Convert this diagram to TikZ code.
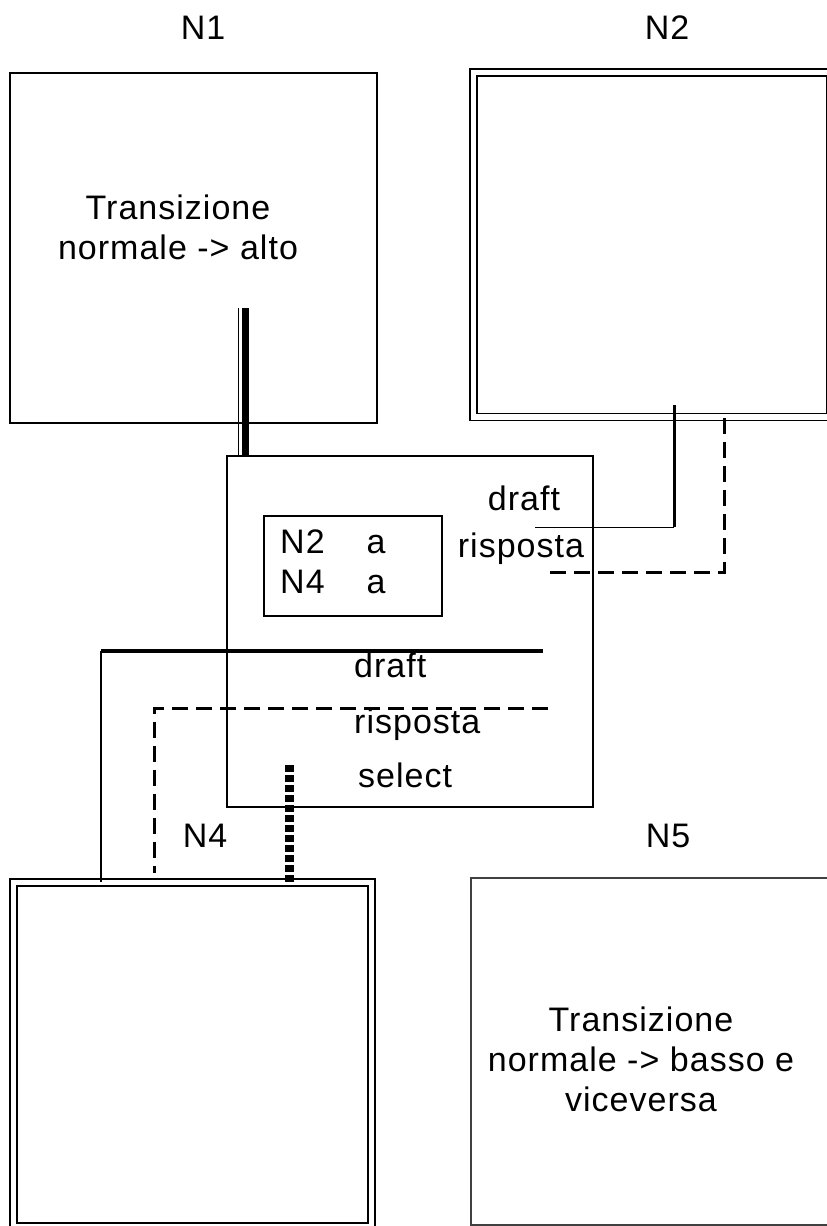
\documentclass[tikz,border=0pt]{standalone}
\usepackage{fontspec}
\setmainfont{Liberation Sans}[LetterSpace=3]
\begin{document}
\begin{tikzpicture}[x=1pt, y=-1pt,
    every node/.style={font=\fontsize{34}{40}\selectfont, inner sep=0pt},
    nodo/.style={draw, line width=2pt, rectangle},
    nododoppio/.style={draw, line width=1.5pt, double, double distance=5.5pt, rectangle},
    pieno/.style={line width=3pt},
    tratto/.style={line width=3pt, dash pattern=on 16pt off 8pt},
    punti/.style={line width=9pt, dash pattern=on 7pt off 3pt}]
    \clip (0,0) rectangle (827,1226);
    % nodes
    \node[nodo, minimum width=367pt, minimum height=350pt] (n1) at (193.5,248) {};
    \node[nododoppio, minimum width=357pt, minimum height=344.5pt] (n2) at (652,244.75) {};
    \node[nododoppio, minimum width=358pt, minimum height=344pt] (n4) at (192.5,1054.5) {};
    \node[draw=black!75, line width=1.2pt, minimum width=364pt, minimum height=347pt] (n5) at (653,1051.5) {};
    \node[nodo, minimum width=366pt, minimum height=351pt] (c) at (410,631.5) {};
    \node[draw, line width=1.5pt, minimum width=178pt, minimum height=100pt] (tab) at (353,566) {};
    % labels
    \node[anchor=base] (l1) at (203,39) {N1};
    \node[anchor=base] (l2) at (667,39) {N2};
    \node[anchor=base] (l4) at (205,847) {N4};
    \node[anchor=base] (l5) at (668,847) {N5};
    \node[align=center] (t1) at (178,227) {Transizione\\normale -> alto};
    \node[align=center] (t5) at (641,1059) {Transizione\\normale -> basso e\\viceversa};
    \node[anchor=base west] (tt) at (280,553)
      {\begin{tabular}[t]{@{}l@{\hspace{42pt}}l@{}}N2 & a\\ N4 & a\end{tabular}};
    \node[anchor=base] (d1) at (524,510) {draft};
    \node[anchor=base] (r1) at (521,557) {risposta};
    \node[anchor=base west] (d2) at (354,677) {draft};
    \node[anchor=base west] (r2) at (354,733) {risposta};
    \node[anchor=base west] (s2) at (358,787) {select};
    % N1 -> centro
    \coordinate (n1a) at (238,308);
    \coordinate (n1b) at (245,308);
    \draw[line width=1pt] (n1a) -- (n1a |- c.north);
    \draw[line width=7pt] (n1b) -- (n1b |- c.north);
    % N2 -> draft / risposta
    \coordinate (n2d) at (674,405);
    \coordinate (n2r) at (724,418);
    \coordinate (dr1) at (535,527);
    \coordinate (ri1) at (548,572);
    \draw[pieno] (n2d) -- (n2d |- dr1);
    \draw[line width=1pt] (n2d |- dr1) -- (dr1);
    \draw[tratto] (n2r) |- (ri1);
    % centro -> N4
    \coordinate (dr2) at (543,651);
    \coordinate (k1) at (101,651);
    \coordinate (ri2) at (548,708);
    \coordinate (k2) at (154,873);
    \coordinate (se) at (289,765);
    \draw[line width=4pt] (dr2) -- (k1);
    \draw[line width=2pt] (k1) -- (k1 |- n4.north);
    \draw[tratto] (ri2) -| (k2);
    \draw[punti] (se) -- (se |- n4.north);
\end{tikzpicture}
\end{document}
